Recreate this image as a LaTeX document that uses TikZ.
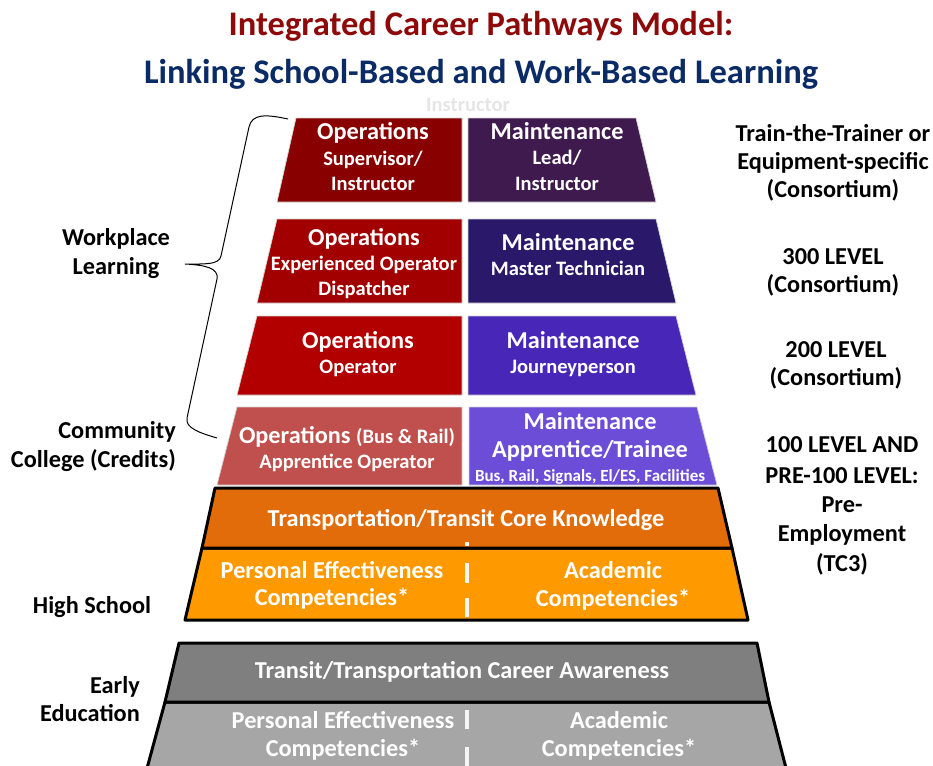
\documentclass[tikz,border=0pt]{standalone}
\usepackage{fontspec}
\setmainfont{Carlito}
\newcommand\fsz[1]{\fontsize{#1}{#1}\selectfont\bfseries}
\definecolor{titlered}{HTML}{8E0A0A}
\definecolor{titleblue}{HTML}{0A2B66}
\definecolor{opA}{HTML}{880000}
\definecolor{mtA}{HTML}{3F1A4F}
\definecolor{opB}{HTML}{A20000}
\definecolor{mtB}{HTML}{2A186A}
\definecolor{opC}{HTML}{B20000}
\definecolor{mtC}{HTML}{4826B8}
\definecolor{opD}{HTML}{C0504D}
\definecolor{mtD}{HTML}{6B4DD8}
\definecolor{orA}{HTML}{E36C0A}
\definecolor{orB}{HTML}{FF9900}
\definecolor{grA}{HTML}{7F7F7F}
\definecolor{grB}{HTML}{A6A6A6}
\tikzset{
  tbig/.style={inner sep=0pt, font=\fsz{24.3}, text height=21pt, text depth=4pt},
  tsub/.style={inner sep=0pt, font=\fsz{20.5}, text height=18pt, text depth=3pt},
  tsmall/.style={inner sep=0pt, font=\fsz{17}, text height=14pt, text depth=3pt},
  ttitle/.style={inner sep=0pt, font=\fsz{34.5}, text height=24pt, text depth=6pt},
  wt/.style={text=white},
  bk/.style={text=black},
  block/.style={draw=gray!35, line width=0.7pt},
  base/.style={draw=black, line width=3pt, line join=round},
  divider/.style={draw=white!92!gray, line width=3.5pt},
  bracepath/.style={draw=black, line width=1pt}
}
\begin{document}
\begin{tikzpicture}[x=1pt,y=-1pt]
\useasboundingbox (0,0) rectangle (933,765);
% faint ghost text
\node[tsub, text=gray!20] (ghostB) at (468,104) {Instructor};
% titles
\node[ttitle, text=titlered] (title1) at (481,27) {Integrated Career Pathways Model:};
\node[ttitle, text=titleblue] (title2) at (481,75) {Linking School-Based and Work-Based Learning};
% tier 1
\path[block, fill=opA] (296,118) -- (462,118) -- (462,202) -- (277,202) -- cycle;
\path[block, fill=mtA] (468,118) -- (636,118) -- (656,202) -- (468,202) -- cycle;
% tier 2
\path[block, fill=opB] (277,219) -- (462,219) -- (462,303) -- (257,303) -- cycle;
\path[block, fill=mtB] (468,219) -- (656,219) -- (676,303) -- (468,303) -- cycle;
% tier 3
\path[block, fill=opC] (257,316) -- (462,316) -- (462,395) -- (237,395) -- cycle;
\path[block, fill=mtC] (468,316) -- (676,316) -- (696,395) -- (468,395) -- cycle;
% tier 4
\path[block, fill=opD] (237,407) -- (462,407) -- (462,485) -- (217,485) -- cycle;
\path[block, fill=mtD] (469,407) -- (697,407) -- (717,485) -- (469,485) -- cycle;
% orange base
\path[base, fill=orB] (202,548) -- (732,548) -- (748,620) -- (185,620) -- cycle;
\path[base, fill=orA] (215,488) -- (718,488) -- (732,548) -- (202,548) -- cycle;
\draw[divider] (467,542) -- (467,546);
\draw[divider] (467,563) -- (467,583);
\draw[divider] (467,598) -- (467,617);
% gray base
\path[base, fill=grB] (165,702) -- (769,702) -- (787,772) -- (146,772) -- cycle;
\path[base, fill=grA] (179,643) -- (757,643) -- (769,702) -- (165,702) -- cycle;
\draw[divider] (467,710) -- (467,729);
\draw[divider] (467,747) -- (467,768);
% brace
\draw[bracepath] (288,119) .. controls (265,114) and (252,114) .. (249,127)
  -- (221,256) .. controls (219,265) and (205,264) .. (185,264)
  .. controls (205,265) and (219,268) .. (217,279)
  -- (187,418) .. controls (185,428) and (200,433) .. (217,438);
% tier texts
\node[tbig, wt] (o1a) at (373,131) {Operations};
\node[tsub, wt] (o1b) at (373,158) {Supervisor/};
\node[tsub, wt] (o1c) at (373,183) {Instructor};
\node[tbig, wt] (m1a) at (557,131) {Maintenance};
\node[tsub, wt] (m1b) at (557,157) {Lead/};
\node[tsub, wt] (m1c) at (557,183) {Instructor};
\node[tbig, wt] (o2a) at (364,237) {Operations};
\node[tsub, wt] (o2b) at (364,263) {Experienced Operator};
\node[tsub, wt] (o2c) at (364,288) {Dispatcher};
\node[tbig, wt] (m2a) at (568,242) {Maintenance};
\node[tsub, wt] (m2b) at (568,268) {Master Technician};
\node[tbig, wt] (o3a) at (358,340) {Operations};
\node[tsub, wt] (o3b) at (358,366) {Operator};
\node[tbig, wt] (m3a) at (573,340) {Maintenance};
\node[tsub, wt] (m3b) at (573,366) {Journeyperson};
\node[tbig, wt] (o4a) at (347,435) {Operations {\fsz{20.5}(Bus \& Rail)}};
\node[tsub, wt] (o4b) at (347,461) {Apprentice Operator};
\node[tbig, wt] (m4a) at (590,421) {Maintenance};
\node[tbig, wt] (m4b) at (590,449) {Apprentice/Trainee};
\node[tsmall, wt] (m4c) at (590,476) {Bus, Rail, Signals, El/ES, Facilities};
% base texts
\node[tbig, wt] (core) at (466,518) {Transportation/Transit Core Knowledge};
\node[tbig, wt] (hsA1) at (332,570) {Personal Effectiveness};
\node[tbig, wt] (hsA2) at (332,597) {Competencies*};
\node[tbig, wt] (hsB1) at (613,570) {Academic};
\node[tbig, wt] (hsB2) at (613,598) {Competencies*};
\node[tbig, wt] (aware) at (462,670) {Transit/Transportation Career Awareness};
\node[tbig, wt] (eeA1) at (343,720) {Personal Effectiveness};
\node[tbig, wt] (eeA2) at (343,748) {Competencies*};
\node[tbig, wt] (eeB1) at (619,720) {Academic};
\node[tbig, wt] (eeB2) at (619,748) {Competencies*};
% left labels
\node[tbig, bk] (wl1) at (116,237) {Workplace};
\node[tbig, bk] (wl2) at (116,266) {Learning};
\node[tbig, bk, anchor=east] (cc1) at (176,430) {Community};
\node[tbig, bk, anchor=east] (cc2) at (176,459) {College (Credits)};
\node[tbig, bk] (hs) at (92,605) {High School};
\node[tbig, bk, anchor=east] (ee1) at (140,685) {Early};
\node[tbig, bk, anchor=east] (ee2) at (140,713) {Education};
% right labels
\node[tbig, bk] (r1a) at (833,133) {Train-the-Trainer or};
\node[tbig, bk] (r1b) at (833,161) {Equipment-specific};
\node[tbig, bk] (r1c) at (833,189) {(Consortium)};
\node[tbig, bk] (r2a) at (833,256) {300 LEVEL};
\node[tbig, bk] (r2b) at (833,284) {(Consortium)};
\node[tbig, bk] (r3a) at (836,349) {200 LEVEL};
\node[tbig, bk] (r3b) at (836,377) {(Consortium)};
\node[tbig, bk] (r4a) at (842,444) {100 LEVEL AND};
\node[tbig, bk] (r4b) at (842,475) {PRE-100 LEVEL:};
\node[tbig, bk] (r4c) at (842,504) {Pre-};
\node[tbig, bk] (r4d) at (842,533) {Employment};
\node[tbig, bk] (r4e) at (842,563) {(TC3)};
\end{tikzpicture}
\end{document}
